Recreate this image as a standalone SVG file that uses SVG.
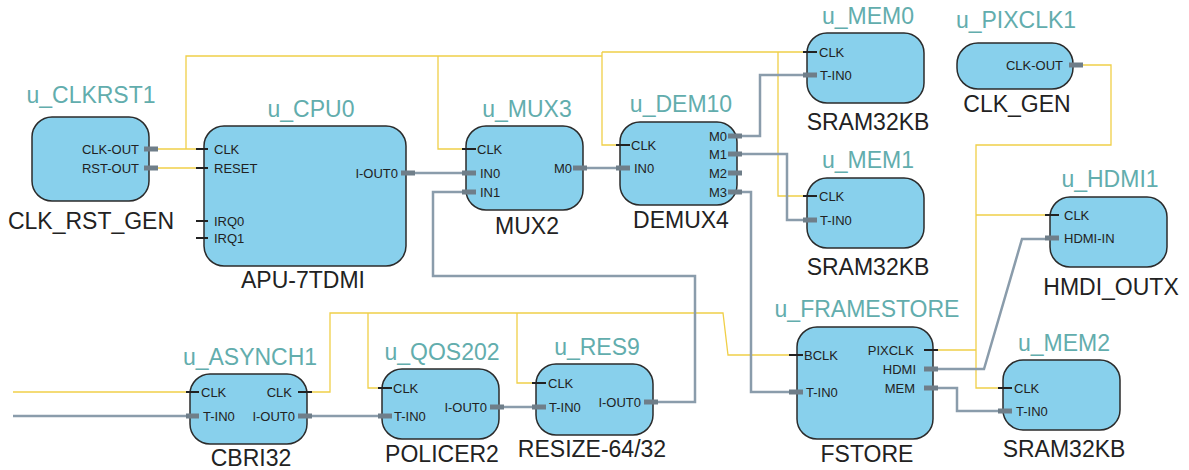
<svg xmlns="http://www.w3.org/2000/svg" width="1189" height="470" viewBox="0 0 1189 470">
<style>
.box{fill:#88d0ec;stroke:#2b2b2b;stroke-width:1.5}
.inst{font-family:"Liberation Sans",Arial,sans-serif;font-size:23px;fill:#62adad;text-anchor:middle}
.type{font-family:"Liberation Sans",Arial,sans-serif;font-size:23px;fill:#222;text-anchor:middle}
.p{font-family:"Liberation Sans",Arial,sans-serif;font-size:13px;fill:#222}
.r{text-anchor:end}
.ck{stroke:#222;stroke-width:2}
.dt{fill:#6f7e89}
.wy{stroke:#f0cf48;stroke-width:1.3;fill:none}
.wg{stroke:#8a9cab;stroke-width:2.5;fill:none}
</style>
<rect width="1189" height="470" fill="#fff"/>
<g id="connectors">
<path class="wy" d="M158,149 H196 M186,149 V56 H602 M438,56 V149 H462 M602,52 V145 H616 M602,52 H803 M778,52 V196 H803"/>
<path class="wy" d="M158,168 H196"/>
<path class="wy" d="M13,392 H186"/>
<path class="wy" d="M312,392 H330 V313 H723 L728,355 H789 M368,313 V388 H378 M517,313 V383 H532"/>
<path class="wy" d="M1083,65 H1111 V145 H976 V388 H998 M976,215 H1045 M938,350 H976"/>
<path class="wg" d="M13,416 H186"/>
<path class="wg" d="M312,416 H378"/>
<path class="wg" d="M504,407 H532"/>
<path class="wg" d="M658,402 H695 V276 H433 V192 H462"/>
<path class="wg" d="M415,173 H462"/>
<path class="wg" d="M587,168 H616"/>
<path class="wg" d="M742,136 H760 V75 H803"/>
<path class="wg" d="M742,154 H787 V220 H803"/>
<path class="wg" d="M742,192 H751 V392 H789"/>
<path class="wg" d="M938,369 H984 L1022,239 H1045"/>
<path class="wg" d="M938,388 H957 V411 H998"/>
</g>
<g id="u_CLKRST1">
<rect class="box" x="32" y="117" width="117" height="84" rx="20"/>
<text class="inst" x="91" y="103">u_CLKRST1</text>
<text class="type" x="91" y="229">CLK_RST_GEN</text>
<rect class="dt" x="144" y="146.5" width="14" height="5"/><text class="p r" x="139" y="153.5">CLK-OUT</text>
<rect class="dt" x="144" y="165.5" width="14" height="5"/><text class="p r" x="139" y="172.5">RST-OUT</text>
</g>
<g id="u_CPU0">
<rect class="box" x="204" y="126" width="202" height="140" rx="20"/>
<text class="inst" x="311" y="117">u_CPU0</text>
<text class="type" x="303" y="288">APU-7TDMI</text>
<line class="ck" x1="196" y1="149" x2="208" y2="149"/><text class="p" x="214" y="153.5">CLK</text>
<line class="ck" x1="196" y1="168" x2="208" y2="168"/><text class="p" x="214" y="172.5">RESET</text>
<line class="ck" x1="196" y1="221" x2="208" y2="221"/><text class="p" x="214" y="225.5">IRQ0</text>
<line class="ck" x1="196" y1="238" x2="208" y2="238"/><text class="p" x="214" y="242.5">IRQ1</text>
<rect class="dt" x="401" y="170.5" width="14" height="5"/><text class="p r" x="398" y="177.5">I-OUT0</text>
</g>
<g id="u_MUX3">
<rect class="box" x="466" y="126" width="117" height="84" rx="20"/>
<text class="inst" x="527" y="117">u_MUX3</text>
<text class="type" x="527" y="234">MUX2</text>
<line class="ck" x1="462" y1="149" x2="476" y2="149"/><text class="p" x="477" y="153.5">CLK</text>
<rect class="dt" x="462" y="170.5" width="14" height="5"/><text class="p" x="480" y="177.5">IN0</text>
<rect class="dt" x="462" y="189.5" width="14" height="5"/><text class="p" x="480" y="196.5">IN1</text>
<rect class="dt" x="573" y="165.5" width="14" height="5"/><text class="p r" x="572" y="172.5">M0</text>
</g>
<g id="u_DEM10">
<rect class="box" x="620" y="122" width="117" height="83" rx="20"/>
<text class="inst" x="681" y="112">u_DEM10</text>
<text class="type" x="681" y="228">DEMUX4</text>
<line class="ck" x1="616" y1="145" x2="630" y2="145"/><text class="p" x="631" y="149.5">CLK</text>
<rect class="dt" x="616" y="165.5" width="14" height="5"/><text class="p" x="634" y="172.5">IN0</text>
<rect class="dt" x="728" y="133.5" width="14" height="5"/><text class="p r" x="727" y="140.5">M0</text>
<rect class="dt" x="728" y="151.5" width="14" height="5"/><text class="p r" x="727" y="158.5">M1</text>
<rect class="dt" x="728" y="170.5" width="14" height="5"/><text class="p r" x="727" y="177.5">M2</text>
<rect class="dt" x="728" y="189.5" width="14" height="5"/><text class="p r" x="727" y="196.5">M3</text>
</g>
<g id="u_MEM0">
<rect class="box" x="807" y="33" width="117" height="70" rx="20"/>
<text class="inst" x="868" y="24">u_MEM0</text>
<text class="type" x="868" y="130">SRAM32KB</text>
<line class="ck" x1="803" y1="52" x2="817" y2="52"/><text class="p" x="819" y="56.5">CLK</text>
<rect class="dt" x="803" y="72.5" width="14" height="5"/><text class="p" x="820" y="79.5">T-IN0</text>
</g>
<g id="u_MEM1">
<rect class="box" x="807" y="178" width="117" height="70" rx="20"/>
<text class="inst" x="868" y="168">u_MEM1</text>
<text class="type" x="868" y="275">SRAM32KB</text>
<line class="ck" x1="803" y1="196" x2="817" y2="196"/><text class="p" x="819" y="200.5">CLK</text>
<rect class="dt" x="803" y="217.5" width="14" height="5"/><text class="p" x="820" y="224.5">T-IN0</text>
</g>
<g id="u_PIXCLK1">
<rect class="box" x="957" y="43" width="116" height="46" rx="21"/>
<text class="inst" x="1016" y="28">u_PIXCLK1</text>
<text class="type" x="1017" y="112">CLK_GEN</text>
<rect class="dt" x="1069" y="62.5" width="14" height="5"/><text class="p r" x="1063" y="69.5">CLK-OUT</text>
</g>
<g id="u_HDMI1">
<rect class="box" x="1050" y="197" width="117" height="70" rx="20"/>
<text class="inst" x="1110" y="187">u_HDMI1</text>
<text class="type" x="1111" y="295">HMDI_OUTX</text>
<line class="ck" x1="1045" y1="215" x2="1059" y2="215"/><text class="p" x="1064" y="219.5">CLK</text>
<rect class="dt" x="1045" y="235.5" width="14" height="5"/><text class="p" x="1064" y="242.5">HDMI-IN</text>
</g>
<g id="u_FRAMESTORE">
<rect class="box" x="797" y="327" width="136" height="112" rx="20"/>
<text class="inst" x="867" y="317">u_FRAMESTORE</text>
<text class="type" x="867" y="462">FSTORE</text>
<line class="ck" x1="789" y1="355" x2="803" y2="355"/><text class="p" x="804" y="359.5">BCLK</text>
<rect class="dt" x="789" y="389.5" width="14" height="5"/><text class="p" x="806" y="396.5">T-IN0</text>
<line class="ck" x1="924" y1="350" x2="938" y2="350"/><text class="p r" x="914" y="354.5">PIXCLK</text>
<rect class="dt" x="924" y="366.5" width="14" height="5"/><text class="p r" x="916" y="373.5">HDMI</text>
<rect class="dt" x="924" y="385.5" width="14" height="5"/><text class="p r" x="915" y="392.5">MEM</text>
</g>
<g id="u_MEM2">
<rect class="box" x="1003" y="360" width="117" height="70" rx="20"/>
<text class="inst" x="1064" y="351">u_MEM2</text>
<text class="type" x="1064" y="457">SRAM32KB</text>
<line class="ck" x1="998" y1="388" x2="1012" y2="388"/><text class="p" x="1014" y="392.5">CLK</text>
<rect class="dt" x="998" y="408.5" width="14" height="5"/><text class="p" x="1016" y="415.5">T-IN0</text>
</g>
<g id="u_ASYNCH1">
<rect class="box" x="190" y="374" width="117" height="70" rx="20"/>
<text class="inst" x="250" y="365">u_ASYNCH1</text>
<text class="type" x="251" y="466">CBRI32</text>
<line class="ck" x1="186" y1="392" x2="199" y2="392"/><text class="p" x="201" y="396.5">CLK</text>
<rect class="dt" x="186" y="413.5" width="13" height="5"/><text class="p" x="203" y="420.5">T-IN0</text>
<line class="ck" x1="298" y1="392" x2="312" y2="392"/><text class="p r" x="292" y="396.5">CLK</text>
<rect class="dt" x="298" y="413.5" width="14" height="5"/><text class="p r" x="295" y="420.5">I-OUT0</text>
</g>
<g id="u_QOS202">
<rect class="box" x="382" y="369" width="117" height="70" rx="20"/>
<text class="inst" x="442" y="360">u_QOS202</text>
<text class="type" x="442" y="462">POLICER2</text>
<line class="ck" x1="378" y1="388" x2="392" y2="388"/><text class="p" x="393" y="392.5">CLK</text>
<rect class="dt" x="378" y="413.5" width="14" height="5"/><text class="p" x="394" y="420.5">T-IN0</text>
<rect class="dt" x="490" y="404.5" width="14" height="5"/><text class="p r" x="487" y="411.5">I-OUT0</text>
</g>
<g id="u_RES9">
<rect class="box" x="536" y="364" width="117" height="71" rx="20"/>
<text class="inst" x="597" y="355">u_RES9</text>
<text class="type" x="592" y="457">RESIZE-64/32</text>
<line class="ck" x1="532" y1="383" x2="546" y2="383"/><text class="p" x="548" y="387.5">CLK</text>
<rect class="dt" x="532" y="404.5" width="14" height="5"/><text class="p" x="549" y="411.5">T-IN0</text>
<rect class="dt" x="644" y="399.5" width="14" height="5"/><text class="p r" x="641" y="406.5">I-OUT0</text>
</g>
</svg>
